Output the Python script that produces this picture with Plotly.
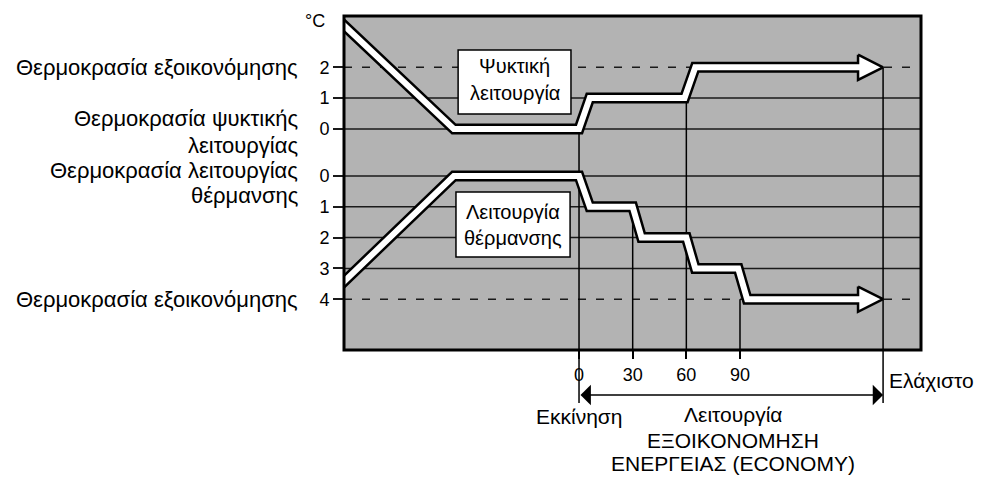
import plotly.graph_objects as go

# ---- data -------------------------------------------------------------
# time after the start of ECONOMY operation (minutes)
TIME_TICKS = [0, 30, 60, 90]
TIME_TICK_TEXT = ["0", "30", "60", "90"]
TIME_END = 170            # "Ελάχιστο" marker

# temperature offsets shown on the two vertical scales (°C)
COOL_LEVELS = [2, 1, 0]
HEAT_LEVELS = [0, 1, 2, 3, 4]
COOL_ECO = 2
HEAT_ECO = 4

# cooling set-point path: minutes / °C above cooling set-point
cool_t = [-140, -70, 0, 6, 59, 65, 170]
cool_v = [3.83, 0, 0, 1, 1, 2, 2]
# heating set-point path: minutes / °C below heating set-point
heat_t = [-140, -70, 0, 6, 30, 35, 60, 65, 89, 94, 170]
heat_v = [3.91, 0, 0, 1, 1, 2, 2, 3, 3, 4, 4]

# vertical reference lines: time and the scale level they rise to
vline_t = [0, 30, 60, 90, 170]
vline_lvl = [("c", 0), ("h", 1), ("c", 1), ("h", 4), ("c", 2)]

# ---- scale helpers ----------------------------------------------------
COOL_OFFSET = 1.53          # gap between the two scales


def cool_y(v):
    return v + COOL_OFFSET


def heat_y(v):
    return -v


X_RANGE = [-131.4, 191.2]
Y_RANGE = [-5.649, 5.195]

FONT = "Liberation Sans, Arial, sans-serif"
SIDE_TXT = 22
BOX_TXT = 20
BOT_TXT = 21
TICK_TXT = 18
GRAY = "#b3b3b3"
LINE = "#1a1a1a"

HEAD_LEN = 14
HEAD_HALF = 0.41

fig = go.Figure()


def add_band(ts, ys):
    """White band with black outline ending in an outlined arrow head."""
    tip_t, tip_y = ts[-1], ys[-1]
    base = tip_t - HEAD_LEN
    bx = ts[:-1] + [base]
    by = ys[:-1] + [tip_y]
    fig.add_trace(go.Scatter(x=bx, y=by, mode="lines",
                             line=dict(color="black", width=11),
                             hoverinfo="skip", showlegend=False))
    fig.add_trace(go.Scatter(x=[base, tip_t, base, base],
                             y=[tip_y + HEAD_HALF, tip_y, tip_y - HEAD_HALF, tip_y + HEAD_HALF],
                             mode="lines", fill="toself", fillcolor="white",
                             line=dict(color="black", width=2.5),
                             hoverinfo="skip", showlegend=False))
    wx = ts[:-1] + [base + 2]
    fig.add_trace(go.Scatter(x=wx, y=by, mode="lines",
                             line=dict(color="white", width=6),
                             hoverinfo="skip", showlegend=False))


add_band(cool_t, [cool_y(v) for v in cool_v])
add_band(heat_t, [heat_y(v) for v in heat_v])

shapes = []
# horizontal scale lines
for v in COOL_LEVELS:
    shapes.append(dict(type="line", xref="paper", yref="y", x0=0, x1=1,
                       y0=cool_y(v), y1=cool_y(v), layer="below",
                       line=dict(color=LINE, width=1.5,
                                 dash="8px,10px" if v == COOL_ECO else "solid")))
for v in HEAT_LEVELS:
    shapes.append(dict(type="line", xref="paper", yref="y", x0=0, x1=1,
                       y0=heat_y(v), y1=heat_y(v), layer="below",
                       line=dict(color=LINE, width=1.5,
                                 dash="8px,10px" if v == HEAT_ECO else "solid")))
# vertical time lines
for t, (scale, lvl) in zip(vline_t, vline_lvl):
    y0 = cool_y(lvl) if scale == "c" else heat_y(lvl)
    shapes.append(dict(type="line", xref="x", yref="y", x0=t, x1=t,
                       y0=y0, y1=Y_RANGE[0], layer="below",
                       line=dict(color="black", width=1.5)))
# start / minimum markers below the chart
for t in (TIME_TICKS[0], TIME_END):
    shapes.append(dict(type="line", xref="x", yref="paper", x0=t, x1=t,
                       y0=0, y1=-0.159, line=dict(color="black", width=1.5)))
# label boxes
shapes.append(dict(type="rect", xref="x", yref="y", x0=-67.6, x1=-4.5,
                   y0=2.01, y1=4.09, fillcolor="white",
                   line=dict(color="black", width=1.5), layer="above"))
shapes.append(dict(type="rect", xref="x", yref="y", x0=-68.8, x1=-5.0,
                   y0=-2.63, y1=-0.52, fillcolor="white",
                   line=dict(color="black", width=1.5), layer="above"))
# frame
shapes.append(dict(type="rect", xref="paper", yref="paper", x0=0, x1=1,
                   y0=0, y1=1, line=dict(color="black", width=3), layer="above"))

ann = []


def text(x, y, s, xref="paper", yref="y", xanchor="right", size=SIDE_TXT,
         yanchor="middle"):
    ann.append(dict(x=x, y=y, xref=xref, yref=yref, text=s, showarrow=False,
                    xanchor=xanchor, yanchor=yanchor,
                    font=dict(family=FONT, size=size, color="black")))


LBL_X = -44 / 577
text(LBL_X, cool_y(COOL_ECO), "Θερμοκρασία εξοικονόμησης")
text(LBL_X, cool_y(0) + 0.34, "Θερμοκρασία ψυκτικής")
text(LBL_X, cool_y(0) - 0.536, "λειτουργίας")
text(LBL_X, heat_y(0) + 0.18, "Θερμοκρασία λειτουργίας")
text(LBL_X, heat_y(0) - 0.63, "θέρμανσης")
text(LBL_X, heat_y(HEAT_ECO), "Θερμοκρασία εξοικονόμησης")
text(-17 / 577, 0.986, "°C", yref="paper", size=TICK_TXT)

# box captions
text(-36, 3.56, "Ψυκτική", xref="x", xanchor="center", size=BOX_TXT)
text(-36, 2.70, "λειτουργία", xref="x", xanchor="center", size=BOX_TXT)
text(-37, -1.17, "Λειτουργία", xref="x", xanchor="center", size=BOX_TXT)
text(-37, -2.02, "θέρμανσης", xref="x", xanchor="center", size=BOX_TXT)

# captions under the time axis
text(TIME_END + 2, -0.09, "Ελάχιστο", xref="x", yref="paper",
     xanchor="left", size=BOT_TXT)
text(TIME_TICKS[0], -0.1997, "Εκκίνηση", xref="x", yref="paper",
     xanchor="center", size=BOT_TXT)
mid = 86
text(mid, -0.1937, "Λειτουργία", xref="x", yref="paper", xanchor="center", size=BOT_TXT)
text(mid, -0.2701, "ΕΞΟΙΚΟΝΟΜΗΣΗ", xref="x", yref="paper", xanchor="center", size=BOT_TXT)
text(mid, -0.3802, "ΕΝΕΡΓΕΙΑΣ (ECONOMY)", xref="x", yref="paper",
     xanchor="center", size=BOT_TXT, yanchor="bottom")

# double arrow for the ECONOMY period
ann.append(dict(x=TIME_END, y=-0.1347, xref="x", yref="paper",
                ax=TIME_TICKS[0], ay=0, axref="x", ayref="pixel",
                showarrow=True, arrowhead=1, arrowside="end+start",
                arrowwidth=1.5, arrowsize=2.3, arrowcolor="black",
                standoff=0, startstandoff=0, text=""))

ytick_vals = [cool_y(v) for v in COOL_LEVELS] + [heat_y(v) for v in HEAT_LEVELS]
ytick_text = [str(v) for v in COOL_LEVELS] + [str(v) for v in HEAT_LEVELS]

fig.update_layout(
    width=982, height=477,
    margin=dict(l=344, r=61, t=16, b=127),
    paper_bgcolor="white", plot_bgcolor=GRAY,
    shapes=shapes, annotations=ann,
    font=dict(family=FONT, size=TICK_TXT, color="black"),
    xaxis=dict(range=X_RANGE, tickvals=TIME_TICKS, ticktext=TIME_TICK_TEXT,
               ticks="outside", ticklen=8, tickwidth=1.5, tickcolor="black",
               showgrid=False, zeroline=False, showline=False,
               tickfont=dict(family=FONT, size=TICK_TXT)),
    yaxis=dict(range=Y_RANGE, tickvals=ytick_vals, ticktext=ytick_text,
               ticks="outside", ticklen=10, tickwidth=1.5, tickcolor=LINE,
               showgrid=False, zeroline=False, showline=False,
               tickfont=dict(family=FONT, size=TICK_TXT)),
)

fig.write_html("out.html")
